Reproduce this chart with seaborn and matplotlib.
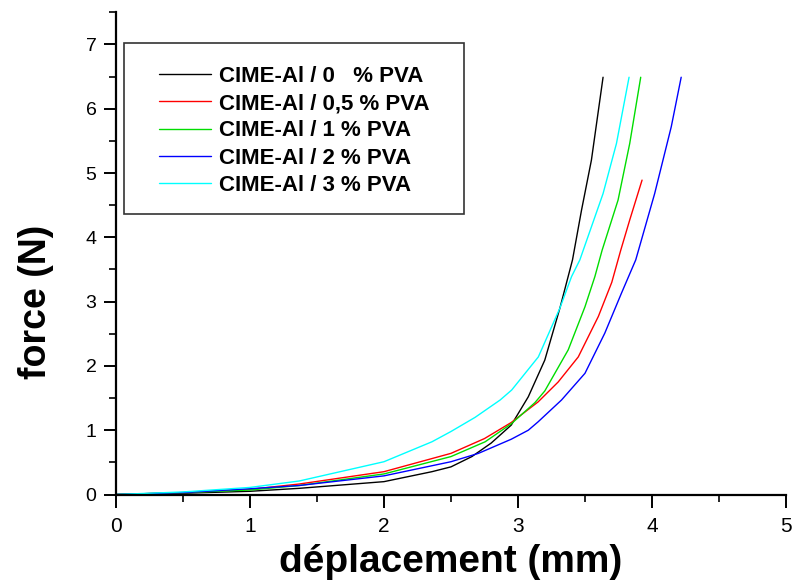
import numpy as np
import pandas as pd
import matplotlib
matplotlib.use("Agg")
import matplotlib.pyplot as plt
import seaborn as sns
from matplotlib.patches import Rectangle
from matplotlib import font_manager

labels = ["CIME-Al / 0   % PVA", "CIME-Al / 0,5 % PVA", "CIME-Al / 1 % PVA",
          "CIME-Al / 2 % PVA", "CIME-Al / 3 % PVA"]
colors = ["#000000", "#ff0000", "#00dd00", "#0000ff", "#00ffff"]

x0 = [0, 0.5, 1.0, 1.367, 2.0, 2.358, 2.5, 2.656, 2.80, 2.95, 3.077, 3.20, 3.313, 3.407, 3.474, 3.548, 3.635]
y0 = [0, 0.02, 0.05, 0.096, 0.20, 0.355, 0.43, 0.59, 0.80, 1.08, 1.52, 2.09, 2.90, 3.65, 4.42, 5.20, 6.49]

x1 = [0, 0.5, 1.0, 1.367, 2.0, 2.5, 2.75, 2.95, 3.15, 3.30, 3.45, 3.60, 3.70, 3.767, 3.834, 3.926]
y1 = [0, 0.03, 0.08, 0.163, 0.355, 0.64, 0.87, 1.12, 1.44, 1.75, 2.14, 2.77, 3.30, 3.80, 4.27, 4.89]

x2 = [0, 0.5, 1.0, 1.367, 2.0, 2.5, 2.755, 2.95, 3.127, 3.20, 3.375, 3.50, 3.574, 3.628, 3.747, 3.834, 3.916]
y2 = [0, 0.03, 0.07, 0.14, 0.32, 0.59, 0.82, 1.10, 1.43, 1.61, 2.25, 2.92, 3.39, 3.80, 4.58, 5.46, 6.49]

x3 = [0, 0.5, 1.0, 1.367, 2.0, 2.5, 2.705, 2.95, 3.077, 3.15, 3.325, 3.50, 3.648, 3.772, 3.879, 4.02, 4.144, 4.218]
y3 = [0, 0.03, 0.09, 0.14, 0.29, 0.51, 0.64, 0.86, 1.00, 1.13, 1.47, 1.885, 2.51, 3.13, 3.65, 4.68, 5.72, 6.49]

x4 = [0, 0.5, 1.0, 1.367, 2.0, 2.358, 2.5, 2.68, 2.867, 2.953, 3.152, 3.313, 3.40, 3.462, 3.487, 3.635, 3.735, 3.829]
y4 = [0, 0.04, 0.11, 0.21, 0.51, 0.82, 0.98, 1.20, 1.47, 1.625, 2.14, 2.90, 3.39, 3.65, 3.80, 4.68, 5.46, 6.49]

xs = [x0, x1, x2, x3, x4]
ys = [y0, y1, y2, y3, y4]

frames = []
for lab, xx, yy in zip(labels, xs, ys):
    frames.append(pd.DataFrame({"x": xx, "y": yy, "series": lab}))
df = pd.concat(frames, ignore_index=True)

sns.set_style("ticks")
plt.rcParams["font.family"] = ["Liberation Sans", "DejaVu Sans"]
plt.rcParams["text.color"] = "black"
plt.rcParams["axes.labelcolor"] = "black"
plt.rcParams["xtick.color"] = "black"
plt.rcParams["ytick.color"] = "black"

avail = {f.name for f in font_manager.fontManager.ttflist}
narrow = "Liberation Sans Narrow" if "Liberation Sans Narrow" in avail else "Liberation Sans"

fig = plt.figure(figsize=(7.96, 5.80), dpi=100)
ax = fig.add_axes([0.1457, 0.1474, 0.8417, 0.8314])

sns.lineplot(data=df, x="x", y="y", hue="series", hue_order=labels,
             palette=dict(zip(labels, colors)), sort=False, estimator=None,
             linewidth=1.0, ax=ax, legend=True)

ax.set_xlim(0, 5)
ax.set_ylim(0, 7.5)
ax.set_xticks([0, 1, 2, 3, 4, 5])
ax.set_xticks(np.arange(0.5, 5, 1.0), minor=True)
ax.set_yticks(range(0, 8))
ax.set_yticks(np.arange(0.5, 7.6, 1.0), minor=True)
sns.despine(ax=ax)
for s in ["left", "bottom"]:
    ax.spines[s].set_linewidth(1.6)
    ax.spines[s].set_color("black")
ax.tick_params(which="major", length=9, width=1.4, direction="out", colors="black")
ax.tick_params(which="minor", length=5, width=1.2, direction="out", colors="black")
ax.tick_params(axis="y", labelsize=14, pad=5)
ax.tick_params(axis="x", labelsize=15, pad=7)
for t in ax.get_xticklabels():
    t.set_family([narrow, "DejaVu Sans"])
ax.set_xlabel("déplacement (mm)", fontsize=28, fontweight="bold", labelpad=6, color="black")
ax.set_ylabel("force (N)", fontsize=27, fontweight="bold", color="black")
ax.yaxis.set_label_coords(-0.092, 0.40)

handles, labs = ax.get_legend_handles_labels()
leg = ax.legend(handles, labs, loc="upper left", bbox_to_anchor=(159/796, 1 - 66/580),
                bbox_transform=fig.transFigure, frameon=False,
                prop={"weight": "bold", "size": 16}, handlelength=2.35,
                handletextpad=0.36, labelspacing=0.28, borderpad=0, borderaxespad=0,
                labelcolor="black")
fig.patches.append(Rectangle((124/796, 1 - 214/580), 340/796, 171/580,
                             transform=fig.transFigure, fill=False,
                             edgecolor="#333333", linewidth=1.2))

fig.savefig("out.png", dpi=100)
